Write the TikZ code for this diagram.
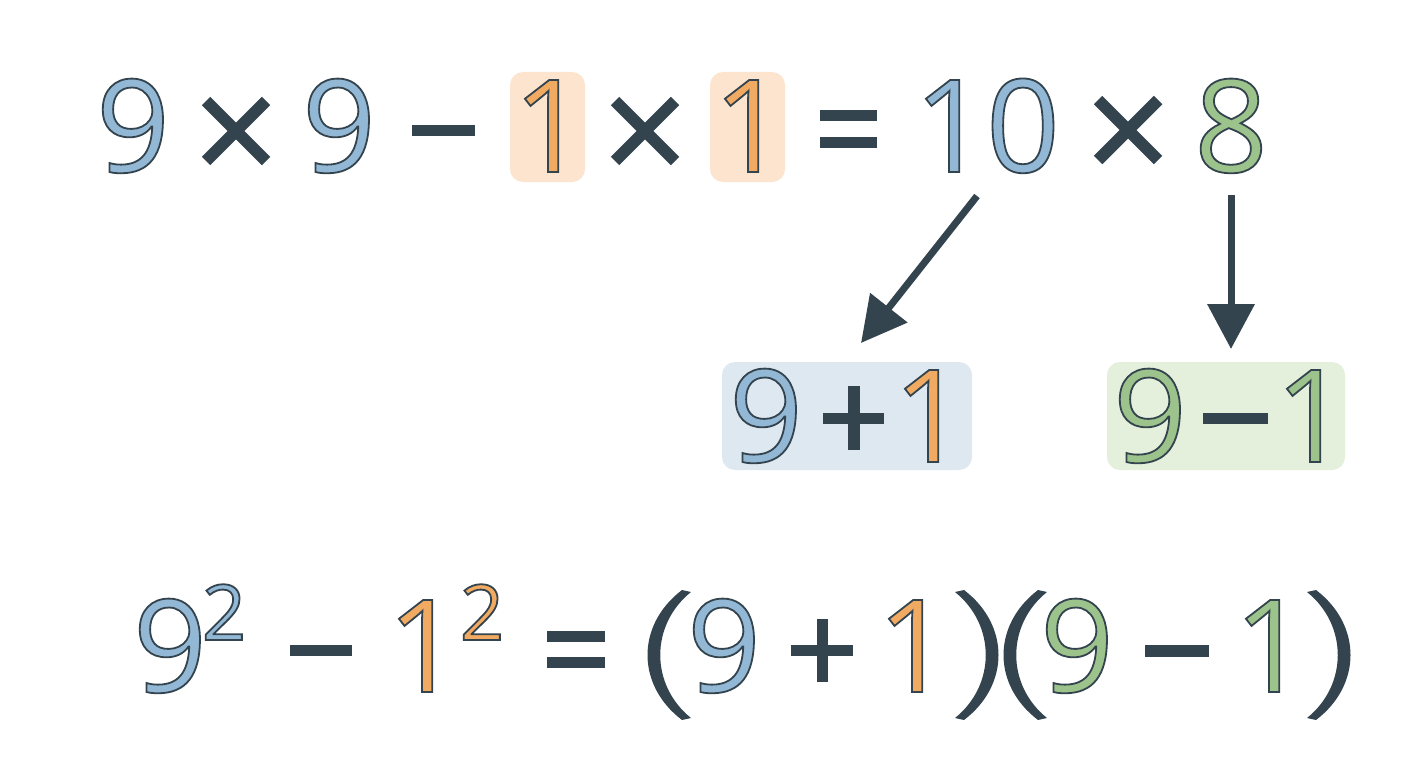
\documentclass[tikz,border=0pt]{standalone}
\usepackage{fontspec}
\setmainfont{Open Sans}
\usetikzlibrary{arrows.meta}
\definecolor{ink}{RGB}{52,68,78}
\definecolor{cblue}{RGB}{146,184,214}
\definecolor{corange}{RGB}{241,170,98}
\definecolor{cgreen}{RGB}{157,195,140}
\definecolor{boxorange}{RGB}{253,228,207}
\definecolor{boxblue}{RGB}{222,232,241}
\definecolor{boxgreen}{RGB}{228,240,220}
\newcommand{\Dg}[2]{\textcolor{#1}{\special{pdf:code 2 Tr 1.8 w 0.204 0.267 0.306 RG}#2\special{pdf:code 0 Tr}}}
\tikzset{
  dig/.style={inner sep=0pt, outer sep=0pt, anchor=base, font=\fontsize{129}{129}\selectfont},
  sup/.style={inner sep=0pt, outer sep=0pt, anchor=base, font=\fontsize{77}{77}\selectfont},
  hbox/.style={rounded corners=13pt, draw=none, inner sep=0pt, minimum width=#1},
  bar/.style={fill=ink, draw=none},
  cross/.style={draw=ink, line width=12pt},
  arr/.style={draw=ink, line width=7pt, -{Triangle[length=45pt,width=46pt]}},
  lparen/.pic={\fill[ink] (-4,590) .. controls (-50,625) and (-50,685) .. (-4,720) -- (5,718) .. controls (-36,685) and (-36,625) .. (5,592) -- cycle;},
}
\begin{document}
\begin{tikzpicture}[x=1pt,y=-1pt]
\useasboundingbox (0,0) rectangle (1408,768);
\fill[white] (0,0) rectangle (1408,768);

% highlight boxes
\node[hbox=75pt, minimum height=110pt, fill=boxorange] (ob1) at (547.5,127) {};
\node[hbox=75pt, minimum height=110pt, fill=boxorange] (ob2) at (747.5,127) {};
\node[hbox=250pt, minimum height=108pt, fill=boxblue] (bb) at (847,416) {};
\node[hbox=238pt, minimum height=108pt, fill=boxgreen] (gb) at (1226,416) {};

% top row
\node[dig] (t9a) at (133,172) {\Dg{cblue}{9}};
\draw[cross] (206,101) -- (266,161) (206,161) -- (266,101);
\node[dig] (t9b) at (339,172) {\Dg{cblue}{9}};
\fill[bar] (412,125) rectangle (475,136);
\node[dig] (t1a) at (550,172) {\Dg{corange}{1}};
\draw[cross] (615,101) -- (675,161) (615,161) -- (675,101);
\node[dig] (t1b) at (750,172) {\Dg{corange}{1}};
\fill[bar] (820,110) rectangle (877,121);
\fill[bar] (820,137) rectangle (877,148);
\node[dig] (t10a) at (951,172) {\Dg{cblue}{1}};
\node[dig] (t10b) at (1023,172) {\Dg{cblue}{0}};
\draw[cross] (1098,100) -- (1158,160) (1098,160) -- (1158,100);
\node[dig] (t8) at (1231,172) {\Dg{cgreen}{8}};

% arrows
\coordinate (a1s) at (977,196);
\coordinate (a1e) at (861,343);
\coordinate (a2s) at (1231,195);
\coordinate (a2e) at (1231,349);
\draw[arr] (a1s) -- (a1e);
\draw[arr] (a2s) -- (a2e);

% middle row
\node[dig] (m9a) at (766,462) {\Dg{cblue}{9}};
\fill[bar] (823,413) rectangle (884,424);
\fill[bar] (848,386) rectangle (860,450);
\node[dig] (m1a) at (930,462) {\Dg{corange}{1}};
\node[dig] (m9b) at (1150,462) {\Dg{cgreen}{9}};
\fill[bar] (1203,413) rectangle (1268,424);
\node[dig] (m1b) at (1312,462) {\Dg{cgreen}{1}};

% bottom row
\node[dig] (b9) at (170,692) {\Dg{cblue}{9}};
\node[sup] (b2a) at (224,640) {\Dg{cblue}{2}};
\fill[bar] (290,645) rectangle (352,656);
\node[dig] (b1) at (424,692) {\Dg{corange}{1}};
\node[sup] (b2b) at (482,640) {\Dg{corange}{2}};
\fill[bar] (547,631) rectangle (605,642);
\fill[bar] (547,657) rectangle (605,668);
\pic at (686,0) {lparen};
\node[dig] (b9p) at (724,692) {\Dg{cblue}{9}};
\fill[bar] (791,645) rectangle (853,656);
\fill[bar] (817,619) rectangle (828,682);
\node[dig] (b1p) at (914,692) {\Dg{corange}{1}};
\pic[xscale=-1] at (960,0) {lparen};
\pic at (1042,0) {lparen};
\node[dig] (b9m) at (1077,692) {\Dg{cgreen}{9}};
\fill[bar] (1145,645) rectangle (1209,657);
\node[dig] (b1m) at (1271,692) {\Dg{cgreen}{1}};
\pic[xscale=-1] at (1312,0) {lparen};
\end{tikzpicture}
\end{document}
